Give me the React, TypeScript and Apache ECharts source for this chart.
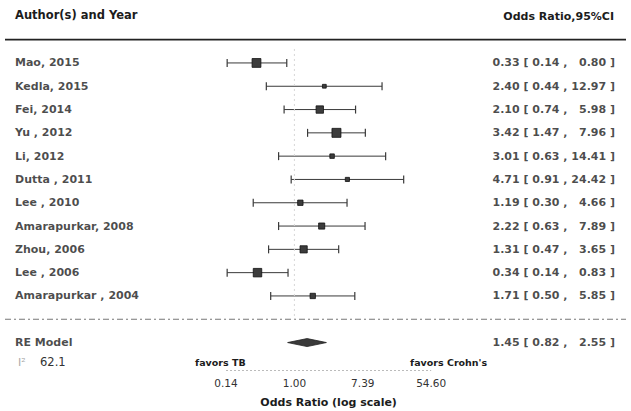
import React, { useEffect, useRef } from "react";
import * as echarts from "echarts";

// ---- data ----
const studies = [
  "Mao, 2015",
  "Kedla, 2015",
  "Fei, 2014",
  "Yu , 2012",
  "Li, 2012",
  "Dutta , 2011",
  "Lee , 2010",
  "Amarapurkar, 2008",
  "Zhou, 2006",
  "Lee , 2006",
  "Amarapurkar , 2004",
];
const oddsRatio = [0.33, 2.4, 2.1, 3.42, 3.01, 4.71, 1.19, 2.22, 1.31, 0.34, 1.71];
const ciLower = [0.14, 0.44, 0.74, 1.47, 0.63, 0.91, 0.3, 0.63, 0.47, 0.14, 0.5];
const ciUpper = [0.8, 12.97, 5.98, 7.96, 14.41, 24.42, 4.66, 7.89, 3.65, 0.83, 5.85];
const weights = [13.5, 2.5, 9.5, 14, 3.5, 3, 5, 6.5, 9, 12.5, 5];
const pooledLabel = "RE Model";
const pooledOR = 1.45;
const pooledLower = 0.82;
const pooledUpper = 2.55;
const i2Value = "62.1";
const tickLogValues = [-2, 0, 2, 4];

// ---- layout ----
const W = 631;
const H = 411;
const X0 = 294.4; // pixel of OR = 1
const K = 34.2; // pixels per ln unit
const XMIN = -X0 / K;
const XMAX = (W - X0) / K;
const GRID_TOP = 28;
const ROW_PX = 23.3;
const YMAX = 12.5;
const YMIN = -2.2;
const GRID_BOTTOM = H - (GRID_TOP + (YMAX - YMIN) * ROW_PX);
const px2x = (px: number) => (px - X0) / K;
const row2py = (r: number) => GRID_TOP + (YMAX - r) * ROW_PX;

const FONT = "DejaVu Sans";
const TXT = "#1c1c1c";

const fmt = (v: number, pad = 0) => {
  const s = v.toFixed(2);
  return s.length < pad ? "\u2007".repeat(pad - s.length) + s : s;
};
const ciText = (e: number, l: number, u: number) =>
  `${fmt(e)} [ ${fmt(l)} , ${fmt(u, 5)} ]`;

export default function App() {
  const ref = useRef<HTMLDivElement>(null);
  useEffect(() => {
    if (!ref.current) return;
    const chart = echarts.init(ref.current, null, { renderer: "svg" });
    const k = studies.length;
    const rows = studies.map((_, i) => k - i);
    const studyData = studies.map((_, i) => [
      Math.log(oddsRatio[i]),
      Math.log(ciLower[i]),
      Math.log(ciUpper[i]),
      rows[i],
      2.4 * Math.sqrt(weights[i]),
    ]);
    const nameX = px2x(15);
    const ciX = px2x(615);

    chart.setOption({
      animation: false,
      backgroundColor: "#ffffff",
      grid: { left: 0, right: 0, top: GRID_TOP, bottom: GRID_BOTTOM },
      xAxis: {
        type: "value",
        min: XMIN,
        max: XMAX,
        axisLine: { show: false },
        axisTick: { show: false },
        splitLine: { show: false },
        axisLabel: {
          customValues: tickLogValues,
          formatter: (v: number) => Math.exp(v).toFixed(2),
          fontFamily: FONT,
          fontSize: 10.5,
          color: "#333",
          margin: 7,
        },
      },
      yAxis: {
        type: "value",
        min: YMIN,
        max: YMAX,
        show: false,
      },
      series: [
        {
          type: "line",
          data: [
            [0, k + 0.6],
            [0, 0],
          ],
          symbol: "none",
          lineStyle: { color: "#d6d6d6", width: 1, type: [2, 3] },
          silent: true,
        },
        {
          type: "line",
          data: [
            [tickLogValues[0], YMIN],
            [tickLogValues[tickLogValues.length - 1], YMIN],
          ],
          symbol: "none",
          lineStyle: { color: "#bbbbbb", width: 1, type: [2, 2] },
          silent: true,
        },
        {
          type: "custom",
          data: studyData,
          renderItem: (params: any, api: any) => {
            const est = api.value(0);
            const lo = api.value(1);
            const hi = api.value(2);
            const row = api.value(3);
            const size = api.value(4);
            const pe = api.coord([est, row]);
            const pl = api.coord([lo, row]);
            const ph = api.coord([hi, row]);
            const cap = 4;
            const stroke = "#3a3a3a";
            return {
              type: "group",
              children: [
                {
                  type: "line",
                  shape: { x1: pl[0], y1: pl[1], x2: ph[0], y2: ph[1] },
                  style: { stroke, lineWidth: 1 },
                },
                {
                  type: "line",
                  shape: { x1: pl[0], y1: pl[1] - cap, x2: pl[0], y2: pl[1] + cap },
                  style: { stroke, lineWidth: 1.2 },
                },
                {
                  type: "line",
                  shape: { x1: ph[0], y1: ph[1] - cap, x2: ph[0], y2: ph[1] + cap },
                  style: { stroke, lineWidth: 1.2 },
                },
                {
                  type: "rect",
                  shape: { x: pe[0] - size / 2, y: pe[1] - size / 2, width: size, height: size },
                  style: { fill: "#3c3c3c", stroke: "#111", lineWidth: 0.8 },
                },
              ],
            };
          },
          silent: true,
        },
        {
          type: "custom",
          data: [[Math.log(pooledOR), Math.log(pooledLower), Math.log(pooledUpper), -1]],
          renderItem: (params: any, api: any) => {
            const row = api.value(3);
            const pe = api.coord([api.value(0), row]);
            const pl = api.coord([api.value(1), row]);
            const ph = api.coord([api.value(2), row]);
            const h = 4;
            return {
              type: "polygon",
              shape: {
                points: [
                  [pl[0], pl[1]],
                  [pe[0], pe[1] - h],
                  [ph[0], ph[1]],
                  [pe[0], pe[1] + h],
                ],
              },
              style: { fill: "#3a3a3a", stroke: "#222", lineWidth: 0.8 },
            };
          },
          silent: true,
        },
        {
          type: "scatter",
          symbolSize: 0,
          data: studies.map((s, i) => ({ value: [nameX, rows[i]], name: s })).concat([
            { value: [nameX, -1], name: pooledLabel },
          ]),
          label: {
            show: true,
            position: "right",
            distance: 0,
            formatter: (p: any) => p.name,
            fontFamily: FONT,
            fontWeight: "bold",
            fontSize: 11,
            color: TXT,
          },
          silent: true,
        },
        {
          type: "scatter",
          symbolSize: 0,
          data: studies
            .map((_, i) => ({
              value: [ciX, rows[i]],
              name: ciText(oddsRatio[i], ciLower[i], ciUpper[i]),
            }))
            .concat([
              { value: [ciX, -1], name: ciText(pooledOR, pooledLower, pooledUpper) },
            ]),
          label: {
            show: true,
            position: "left",
            distance: 0,
            formatter: (p: any) => p.name,
            fontFamily: FONT,
            fontWeight: "bold",
            fontSize: 11,
            color: TXT,
          },
          silent: true,
        },
      ],
      graphic: [
        {
          type: "text",
          left: 15,
          top: 9,
          style: {
            text: "Author(s) and Year",
            font: `bold 11.5px "${FONT}"`,
            fill: TXT,
          },
        },
        {
          type: "text",
          right: 631 - 614,
          top: 11,
          style: {
            text: "Odds Ratio,95%CI",
            font: `bold 11px "${FONT}"`,
            fill: TXT,
          },
        },
        {
          type: "line",
          shape: { x1: 5, y1: row2py(k + 1), x2: 626, y2: row2py(k + 1) },
          style: { stroke: "#222", lineWidth: 1.6 },
        },
        {
          type: "line",
          shape: { x1: 5, y1: row2py(0), x2: 626, y2: row2py(0) },
          style: { stroke: "#777", lineWidth: 1, lineDash: [6, 3, 2, 3] },
        },
        {
          type: "text",
          x: 18,
          y: row2py(-1.85),
          style: {
            text: "I²",
            font: `11px "${FONT}"`,
            fill: "#aaaaaa",
            verticalAlign: "middle",
          },
        },
        {
          type: "text",
          x: 40,
          y: row2py(-1.85),
          style: {
            text: i2Value,
            font: `11.5px "${FONT}"`,
            fill: "#333",
            verticalAlign: "middle",
          },
        },
        {
          type: "text",
          x: 195,
          y: row2py(-1.85),
          style: {
            text: "favors TB",
            font: `bold 9.5px "${FONT}"`,
            fill: TXT,
            verticalAlign: "middle",
          },
        },
        {
          type: "text",
          x: 410,
          y: row2py(-1.85),
          style: {
            text: "favors Crohn's",
            font: `bold 9.5px "${FONT}"`,
            fill: TXT,
            verticalAlign: "middle",
          },
        },
        {
          type: "text",
          x: X0 + K,
          y: 402,
          style: {
            text: "Odds Ratio (log scale)",
            font: `bold 11px "${FONT}"`,
            fill: TXT,
            align: "center",
            verticalAlign: "middle",
          },
        },
      ],
    });
    return () => chart.dispose();
  }, []);
  return (
    <div
      ref={ref}
      style={{ position: "fixed", left: 0, top: 0, width: W, height: H, background: "#fff" }}
    />
  );
}
